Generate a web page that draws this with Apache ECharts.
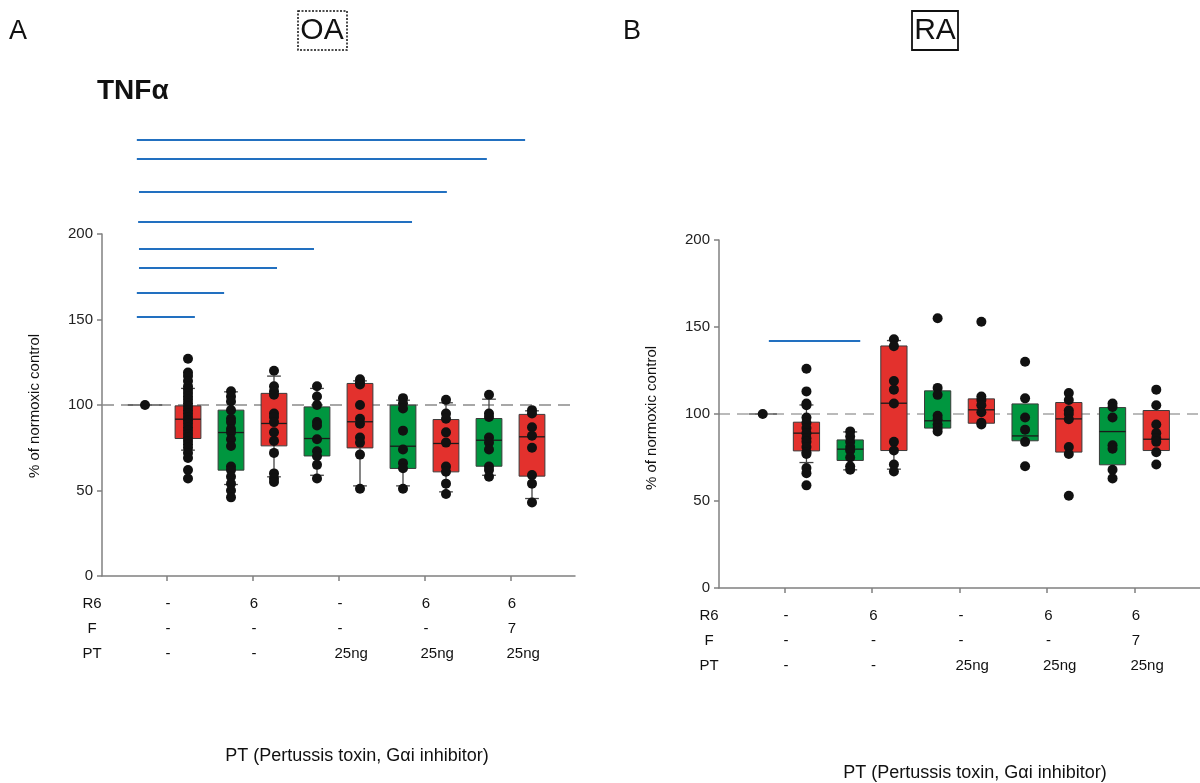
<!DOCTYPE html>
<html>
<head>
<meta charset="utf-8">
<script src="https://cdn.jsdelivr.net/npm/echarts@6/dist/echarts.min.js"></script>
<style>
html,body{margin:0;padding:0;background:#fff;}
#chart{width:1200px;height:783px;}
</style>
</head>
<body>
<div id="chart"></div>
<script>
// ---------- DATA ----------
const groupPos = [1, 2, 3, 4, 5, 6, 7, 8, 9, 10];
const groupColor = ['ctrl', 'red', 'green', 'red', 'green', 'red', 'green', 'red', 'green', 'red'];
const tickPos = [1.5, 3.5, 5.5, 7.5, 9.5];
const rowNames = ['R6', 'F', 'PT'];
const r6Labels = ['-', '6', '-', '6', '6'];
const fLabels = ['-', '-', '-', '-', '7'];
const ptLabels = ['-', '-', '25ng', '25ng', '25ng'];
const yTickValues = [0, 50, 100, 150, 200];

// Panel A (OA)
const oaQ1 = [100, 80.4, 61.9, 76.1, 70.2, 74.9, 62.9, 60.9, 64.2, 58.4];
const oaMed = [100, 91.7, 83.9, 89.2, 80.4, 90.2, 75.9, 77.5, 79.4, 81.4];
const oaQ3 = [100, 99.5, 97.0, 106.8, 98.9, 112.6, 99.9, 91.5, 92.1, 94.5];
const oaWLo = [null, 73.6, 53.5, 58.0, 58.9, 52.7, 52.7, 49.2, 58.9, 45.3];
const oaWHi = [null, 109.7, 107.7, 116.9, 109.7, 114.1, 102.8, 101.3, 103.4, 96.6];
const oaDots = [
  [100],
  [127, 119, 117, 114, 111, 109, 107, 105, 103, 101, 99, 97, 95, 93, 91, 89, 87, 85, 83, 81, 79, 77, 75, 72, 69, 62, 57],
  [108, 105, 102, 97, 92, 90, 86, 84, 80, 76, 64, 62, 58, 54, 50, 46],
  [120, 111, 108, 106, 95, 93, 90, 84, 79, 72, 60, 57, 55],
  [111, 105, 100, 90, 88, 80, 73, 70, 65, 57],
  [115, 113, 112, 100, 92, 89, 81, 78, 71, 51],
  [104, 101, 98, 85, 74, 66, 63, 51],
  [103, 95, 92, 84, 78, 64, 61, 54, 48],
  [106, 95, 93, 81, 78, 74, 64, 62, 58],
  [97, 95, 87, 82, 75, 59, 54, 43]
];
const oaSigStart = [0.81, 0.81, 0.86, 0.84, 0.86, 0.86, 0.81, 0.81];
const oaSigEnd = [9.84, 8.95, 8.02, 7.21, 4.93, 4.07, 2.84, 2.16];
const oaSigY = [255.0, 243.9, 224.6, 207.0, 191.2, 180.1, 165.5, 151.4];

// Panel B (RA)
const raQ1 = [100, 78.8, 73.3, 79.0, 91.9, 94.7, 84.6, 78.1, 70.8, 79.0];
const raMed = [100, 89.0, 79.8, 106.2, 96.1, 102.4, 87.4, 97.2, 89.9, 85.5];
const raQ3 = [100, 95.3, 85.1, 139.1, 113.3, 108.7, 105.8, 106.6, 103.7, 102.0];
const raWLo = [null, 72.1, 67.9, 68.3, null, null, null, null, null, null];
const raWHi = [null, 105.2, 89.7, 142.2, null, null, null, null, null, null];
const raDots = [
  [100],
  [126, 113, 106, 105, 98, 95, 92, 89, 86, 84, 81, 78, 77, 69, 66, 59],
  [90, 87, 84, 81, 79, 75, 70, 68],
  [143, 139, 119, 114, 106, 84, 79, 71, 67],
  [155, 115, 111, 99, 97, 94, 92, 90],
  [153, 110, 108, 105, 101, 95, 94],
  [130, 109, 98, 91, 84, 70],
  [112, 108, 102, 100, 97, 81, 77, 53],
  [106, 104, 98, 82, 80, 68, 63],
  [114, 105, 94, 89, 86, 84, 78, 71]
];
const raSigStart = [1.14];
const raSigEnd = [3.23];
const raSigY = [142.0];

const refValue = 100;

// ---------- STYLE ----------
const FONT = '"Liberation Sans", Arial, Helvetica, sans-serif';
const RED = '#e3312d';
const GREEN = '#00963f';
const BLUE = '#2270c0';
const AXIS = '#808080';

const chart = echarts.init(document.getElementById('chart'), null, {renderer: 'canvas'});

function boxSeries(gi, q1, med, q3, lo, hi, boxW, ctrlW) {
  return {
    type: 'custom',
    xAxisIndex: gi, yAxisIndex: gi,
    clip: false, silent: true, z: 2,
    data: groupPos.map((x, i) => [x, q1[i], med[i], q3[i]]),
    renderItem: function (params, api) {
      const i = params.dataIndex;
      const x = groupPos[i];
      const children = [];
      if (groupColor[i] === 'ctrl') {
        const a = api.coord([x - ctrlW / 2, med[i]]);
        const b = api.coord([x + ctrlW / 2, med[i]]);
        children.push({type: 'line', shape: {x1: a[0], y1: a[1], x2: b[0], y2: b[1]},
          style: {stroke: '#555', lineWidth: 1.4}});
        return {type: 'group', children: children};
      }
      const capW = 0.32;
      const cTop = api.coord([x, q3[i]]);
      const cBot = api.coord([x, q1[i]]);
      const left = api.coord([x - boxW / 2, q3[i]])[0];
      const right = api.coord([x + boxW / 2, q3[i]])[0];
      const fill = groupColor[i] === 'red' ? RED : GREEN;
      const ws = {stroke: '#444', lineWidth: 1.3};
      if (hi[i] != null) {
        const h = api.coord([x, hi[i]]);
        const cl = api.coord([x - capW / 2, hi[i]])[0];
        const cr = api.coord([x + capW / 2, hi[i]])[0];
        children.push({type: 'line', shape: {x1: h[0], y1: h[1], x2: cTop[0], y2: cTop[1]}, style: ws});
        children.push({type: 'line', shape: {x1: cl, y1: h[1], x2: cr, y2: h[1]}, style: ws});
      }
      if (lo[i] != null) {
        const l = api.coord([x, lo[i]]);
        const cl = api.coord([x - capW / 2, lo[i]])[0];
        const cr = api.coord([x + capW / 2, lo[i]])[0];
        children.push({type: 'line', shape: {x1: l[0], y1: l[1], x2: cBot[0], y2: cBot[1]}, style: ws});
        children.push({type: 'line', shape: {x1: cl, y1: l[1], x2: cr, y2: l[1]}, style: ws});
      }
      children.push({type: 'rect', shape: {x: left, y: cTop[1], width: right - left, height: cBot[1] - cTop[1]},
        style: {fill: fill, stroke: '#3a3a3a', lineWidth: 1}});
      const m = api.coord([x, med[i]]);
      children.push({type: 'line', shape: {x1: left, y1: m[1], x2: right, y2: m[1]},
        style: {stroke: '#1a1a1a', lineWidth: 1.3}});
      return {type: 'group', children: children};
    }
  };
}

function dotSeries(gi, dots) {
  const data = [];
  dots.forEach((arr, i) => arr.forEach(v => data.push([groupPos[i], v])));
  return {
    type: 'scatter', xAxisIndex: gi, yAxisIndex: gi, z: 5, silent: true, clip: false,
    symbol: 'circle', symbolSize: 10,
    itemStyle: {color: '#111', opacity: 1},
    data: data
  };
}

function sigSeries(gi, s, e, y) {
  return s.map((x0, i) => ({
    type: 'line', xAxisIndex: gi, yAxisIndex: gi, clip: false, silent: true, z: 3,
    symbol: 'none', lineStyle: {color: BLUE, width: 2},
    data: [[x0, y[i]], [e[i], y[i]]]
  }));
}

function refSeries(gi, xEnd, width, dash, color) {
  return {
    type: 'line', xAxisIndex: gi, yAxisIndex: gi, clip: false, silent: true, z: 1,
    symbol: 'none', lineStyle: {color: color, width: width, type: dash},
    data: [[0, refValue], [xEnd, refValue]]
  };
}

function xAxisDef(gi) {
  return {
    type: 'value', gridIndex: gi, min: 0, max: 11,
    splitLine: {show: false},
    axisLine: {show: true, lineStyle: {color: AXIS, width: 1.5}},
    axisTick: {show: true, customValues: tickPos, length: 5, lineStyle: {color: AXIS, width: 1.5}},
    axisLabel: {show: false}
  };
}
function yAxisDef(gi) {
  return {
    type: 'value', gridIndex: gi, min: 0, max: 200, interval: 50,
    splitLine: {show: false},
    axisLine: {show: true, lineStyle: {color: AXIS, width: 1.5}},
    axisTick: {show: true, length: 5, inside: false, lineStyle: {color: AXIS, width: 1.5}},
    axisLabel: {show: true, color: '#222', fontSize: 15, fontFamily: FONT, margin: 9,
      customValues: yTickValues}
  };
}

const option = {
  animation: false,
  backgroundColor: '#ffffff',
  grid: [
    {left: 102, top: 234, width: 473, height: 342},
    {left: 719, top: 240, width: 483, height: 348}
  ],
  xAxis: [xAxisDef(0), xAxisDef(1)],
  yAxis: [yAxisDef(0), yAxisDef(1)],
  series: [
    refSeries(0, 11.4, 1.5, [12, 7], '#8a8a8a'),
    refSeries(1, 11.2, 1.2, [11, 7], '#777777'),
    boxSeries(0, oaQ1, oaMed, oaQ3, oaWLo, oaWHi, 0.6, 0.8),
    boxSeries(1, raQ1, raMed, raQ3, raWLo, raWHi, 0.6, 0.65),
    dotSeries(0, oaDots),
    dotSeries(1, raDots),
    ...sigSeries(0, oaSigStart, oaSigEnd, oaSigY),
    ...sigSeries(1, raSigStart, raSigEnd, raSigY)
  ]
};
chart.setOption(option);

// ---------- TEXT (positioned through the chart's scales) ----------
const graphics = [];
function txt(x, y, text, size, opts) {
  opts = opts || {};
  graphics.push({
    type: 'text', x: x, y: y, rotation: opts.rotation || 0, silent: true,
    style: {text: text, fontSize: size, fontFamily: FONT, fill: opts.color || '#111',
      fontWeight: opts.bold ? 'bold' : 'normal',
      textAlign: opts.align || 'center', textVerticalAlign: 'middle'}
  });
}
const rowOffsets = [28, 52.5, 77.5];
const rowLabelSets = [r6Labels, fLabels, ptLabels];
[0, 1].forEach(gi => {
  const origin = chart.convertToPixel({gridIndex: gi}, [0, 0]);
  rowNames.forEach((name, r) => {
    txt(origin[0] - 10, origin[1] + rowOffsets[r], name, 15);
  });
  rowLabelSets.forEach((labels, r) => {
    labels.forEach((lab, k) => {
      const p = chart.convertToPixel({gridIndex: gi}, [tickPos[k], 0]);
      if (lab.length > 1) {
        txt(p[0] - 4, p[1] + rowOffsets[r], lab, 15, {align: 'left'});
      } else {
        txt(p[0] + 1.5, p[1] + rowOffsets[r], lab, 15);
      }
    });
  });
});
// axis titles
txt(35, 406, '% of normoxic control', 15, {rotation: Math.PI / 2});
txt(652, 418, '% of normoxic control', 15, {rotation: Math.PI / 2});
txt(357, 756, 'PT (Pertussis toxin, G\u03B1i inhibitor)', 18);
txt(975, 773, 'PT (Pertussis toxin, G\u03B1i inhibitor)', 18);
// panel headers
txt(9, 32, 'A', 27, {align: 'left'});
txt(623, 32, 'B', 27, {align: 'left'});
txt(97, 91, 'TNF\u03B1', 28, {align: 'left', bold: true});
txt(322, 31, 'OA', 30);
txt(935, 31, 'RA', 30);
graphics.push({type: 'rect', silent: true, shape: {x: 298, y: 11, width: 49, height: 39},
  style: {fill: 'none', stroke: '#111', lineWidth: 1.5, lineDash: [2, 1.5]}});
graphics.push({type: 'rect', silent: true, shape: {x: 912, y: 11, width: 46, height: 39},
  style: {fill: 'none', stroke: '#111', lineWidth: 1.8}});

chart.setOption({graphic: graphics});
</script>
</body>
</html>
